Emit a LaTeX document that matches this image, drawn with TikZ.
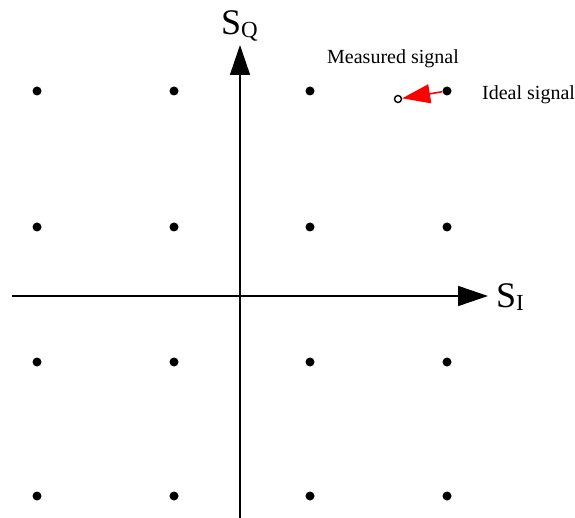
\documentclass[tikz,border=0pt]{standalone}
\usepackage{fontspec}
\setmainfont{Liberation Serif}
\usetikzlibrary{arrows.meta}
\begin{document}
\begin{tikzpicture}[x=1pt,y=-1pt,
  dot/.style={circle,fill=black,inner sep=0pt,minimum size=9pt},
  meas/.style={circle,draw=black,fill=white,line width=1.4pt,inner sep=0pt,minimum size=7pt},
  axis/.style={line width=1.6pt,-{Triangle[length=30pt,width=20pt]}},
  lbl/.style={inner sep=0pt,font=\fontsize{20}{20}\selectfont},
  big/.style={inner sep=0pt,anchor=base west}]
\useasboundingbox (0,0) rectangle (575,518);
% axes
\coordinate (xl) at (12,296);
\coordinate (xr) at (488,296);
\coordinate (yb) at (240,518);
\coordinate (yt) at (240,45);
\draw[axis] (xl) -- (xr);
\draw[axis] (yb) -- (yt);
% dots
\foreach \i/\x in {1/37,2/174,3/310,4/447}{
  \foreach \j/\y in {1/91,2/227,3/362,4/496}{
    \node[dot] (d\i\j) at (\x,\y) {};
  }
}
% measured
\node[meas] (m) at (398,99) {};
\draw[red,line width=1.6pt,-{Triangle[length=28pt,width=19pt]}] (d41) -- (m);
% labels
\node[lbl,anchor=base] (mt) at (393,64) {Measured signal};
\node[lbl,anchor=base west] (it) at (482,100) {Ideal signal};
\node[big] (sq) at (221,35) {{\fontsize{36}{36}\selectfont S}\raisebox{-0.28em}{\fontsize{23}{23}\selectfont Q}};
\node[big] (si) at (496,308) {{\fontsize{36}{36}\selectfont S}\raisebox{-0.28em}{\fontsize{23}{23}\selectfont I}};
\end{tikzpicture}
\end{document}
